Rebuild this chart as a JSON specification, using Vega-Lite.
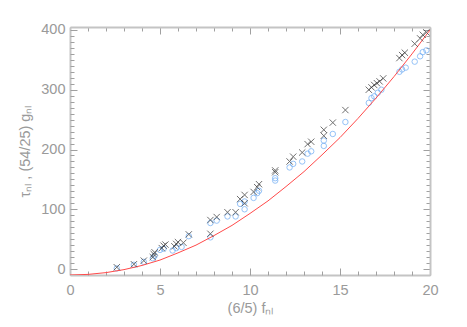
{
  "$schema": "https://vega.github.io/schema/vega-lite/v6.json",
  "width": 360,
  "height": 248,
  "autosize": "none",
  "padding": {"left": 70, "top": 27, "right": 37, "bottom": 52},
  "background": "white",
  "config": {
    "view": {"stroke": null},
    "axis": {
      "grid": false,
      "domainColor": "#c4c4c4",
      "domainWidth": 2,
      "tickColor": "#a0a0a0",
      "tickWidth": 1,
      "labelColor": "#9a9a9a",
      "labelFont": "Liberation Sans",
      "labelFontSize": 14.5,
      "titleColor": "#9a9a9a",
      "titleFont": "Liberation Sans",
      "titleFontSize": 14.5,
      "titleFontWeight": "normal",
      "labelOverlap": false,
      "labelBound": false,
      "labelFlush": false
    }
  },
  "datasets": {
    "curve": [
      {"x": 0, "y": -10}, {"x": 1, "y": -9}, {"x": 2, "y": -6}, {"x": 3, "y": -1},
      {"x": 4, "y": 6}, {"x": 5, "y": 15}, {"x": 6, "y": 27}, {"x": 7, "y": 40},
      {"x": 8, "y": 56}, {"x": 9, "y": 73}, {"x": 10, "y": 93}, {"x": 11, "y": 114},
      {"x": 12, "y": 138}, {"x": 13, "y": 163}, {"x": 14, "y": 191}, {"x": 15, "y": 220},
      {"x": 16, "y": 252}, {"x": 17, "y": 286}, {"x": 18, "y": 322}, {"x": 19, "y": 360},
      {"x": 20, "y": 400}
    ],
    "crosses": [
      {"x": 2.6, "y": 3}, {"x": 3.55, "y": 8}, {"x": 4.1, "y": 14}, {"x": 4.6, "y": 20},
      {"x": 4.65, "y": 25}, {"x": 4.7, "y": 28}, {"x": 5.1, "y": 35}, {"x": 5.2, "y": 39},
      {"x": 5.3, "y": 41}, {"x": 5.8, "y": 38}, {"x": 5.9, "y": 42}, {"x": 6.0, "y": 45},
      {"x": 6.3, "y": 44}, {"x": 6.6, "y": 58}, {"x": 7.8, "y": 59}, {"x": 7.8, "y": 82},
      {"x": 8.15, "y": 87}, {"x": 8.75, "y": 95}, {"x": 9.2, "y": 95}, {"x": 9.45, "y": 117},
      {"x": 9.7, "y": 124}, {"x": 9.7, "y": 110}, {"x": 10.2, "y": 129}, {"x": 10.4, "y": 137},
      {"x": 10.5, "y": 142}, {"x": 11.4, "y": 162}, {"x": 11.4, "y": 165}, {"x": 12.2, "y": 180},
      {"x": 12.4, "y": 188}, {"x": 12.9, "y": 195}, {"x": 13.2, "y": 209}, {"x": 13.4, "y": 213},
      {"x": 14.1, "y": 233}, {"x": 14.1, "y": 223}, {"x": 14.6, "y": 245}, {"x": 15.3, "y": 266},
      {"x": 16.6, "y": 300}, {"x": 16.75, "y": 304}, {"x": 16.9, "y": 308}, {"x": 17.05, "y": 311},
      {"x": 17.2, "y": 314}, {"x": 17.4, "y": 319}, {"x": 18.3, "y": 353}, {"x": 18.45, "y": 358},
      {"x": 18.6, "y": 362}, {"x": 19.15, "y": 377}, {"x": 19.45, "y": 386}, {"x": 19.6, "y": 392},
      {"x": 19.8, "y": 396}
    ],
    "circles": [
      {"x": 2.6, "y": 1}, {"x": 3.55, "y": 7}, {"x": 4.1, "y": 12}, {"x": 4.6, "y": 18},
      {"x": 4.7, "y": 22}, {"x": 5.0, "y": 32}, {"x": 5.2, "y": 34}, {"x": 5.7, "y": 31},
      {"x": 5.9, "y": 35}, {"x": 6.2, "y": 37}, {"x": 6.6, "y": 55}, {"x": 7.8, "y": 53},
      {"x": 7.8, "y": 77}, {"x": 8.15, "y": 81}, {"x": 8.75, "y": 88}, {"x": 9.2, "y": 88},
      {"x": 9.45, "y": 109}, {"x": 9.7, "y": 113}, {"x": 9.7, "y": 100}, {"x": 10.2, "y": 119},
      {"x": 10.4, "y": 127}, {"x": 10.5, "y": 131}, {"x": 11.4, "y": 148}, {"x": 11.4, "y": 152},
      {"x": 12.2, "y": 170}, {"x": 12.4, "y": 176}, {"x": 12.9, "y": 180}, {"x": 13.2, "y": 193},
      {"x": 13.4, "y": 197}, {"x": 14.1, "y": 215}, {"x": 14.1, "y": 206}, {"x": 14.6, "y": 226},
      {"x": 15.3, "y": 246}, {"x": 16.6, "y": 278}, {"x": 16.75, "y": 286}, {"x": 16.9, "y": 289},
      {"x": 17.1, "y": 295}, {"x": 17.3, "y": 300}, {"x": 18.3, "y": 330}, {"x": 18.45, "y": 334},
      {"x": 18.65, "y": 337}, {"x": 19.15, "y": 347}, {"x": 19.45, "y": 356}, {"x": 19.6, "y": 363},
      {"x": 19.8, "y": 366}
    ]
  },
  "layer": [
    {
      "data": {"name": "circles"},
      "mark": {"type": "point", "shape": "circle", "filled": false, "size": 30, "stroke": "#6aaaf5", "strokeWidth": 1, "clip": true},
      "encoding": {
        "x": {
          "field": "x", "type": "quantitative",
          "scale": {"domain": [0, 20], "nice": false, "zero": false},
          "title": "(6/5) fₙₗ",
          "axis": {"orient": "bottom", "values": [0, 5, 10, 15, 20], "ticks": false, "labelPadding": 8, "titlePadding": 5}
        },
        "y": {
          "field": "y", "type": "quantitative",
          "scale": {"domain": [-10, 405], "nice": false, "zero": false},
          "title": "τₙₗ , (54/25) gₙₗ",
          "axis": {"orient": "left", "values": [0, 100, 200, 300, 400], "ticks": false, "labelPadding": 5, "titlePadding": 8}
        }
      }
    },
    {
      "data": {"name": "curve"},
      "mark": {"type": "line", "color": "#ff4a4a", "strokeWidth": 1, "clip": true},
      "encoding": {
        "x": {
          "field": "x", "type": "quantitative",
          "axis": {
            "orient": "top", "offset": -248, "ticks": true, "domain": false, "labels": false, "title": null,
            "values": [0,1,2,3,4,5,6,7,8,9,10,11,12,13,14,15,16,17,18,19,20],
            "tickSize": {"condition": {"test": "datum.value % 5 === 0", "value": 7}, "value": 4}
          }
        },
        "y": {
          "field": "y", "type": "quantitative",
          "axis": {
            "orient": "right", "offset": -360, "ticks": true, "domain": false, "labels": false, "title": null,
            "values": [0,10,20,30,40,50,60,70,80,90,100,110,120,130,140,150,160,170,180,190,200,210,220,230,240,250,260,270,280,290,300,310,320,330,340,350,360,370,380,390,400],
            "tickSize": {"condition": {"test": "datum.value % 100 === 0", "value": 7}, "value": 4}
          }
        }
      }
    },
    {
      "data": {"name": "crosses"},
      "mark": {"type": "point", "shape": "M-1,-1L1,1M-1,1L1,-1", "filled": false, "size": 40, "stroke": "#333333", "strokeWidth": 1, "clip": true},
      "encoding": {
        "x": {
          "field": "x", "type": "quantitative",
          "axis": {
            "orient": "bottom", "offset": -248, "ticks": true, "domain": true, "labels": false, "title": null,
            "values": [0,1,2,3,4,5,6,7,8,9,10,11,12,13,14,15,16,17,18,19,20],
            "tickSize": {"condition": {"test": "datum.value % 5 === 0", "value": 7}, "value": 4}
          }
        },
        "y": {
          "field": "y", "type": "quantitative",
          "axis": {
            "orient": "left", "offset": -360, "ticks": true, "domain": true, "labels": false, "title": null,
            "values": [0,10,20,30,40,50,60,70,80,90,100,110,120,130,140,150,160,170,180,190,200,210,220,230,240,250,260,270,280,290,300,310,320,330,340,350,360,370,380,390,400],
            "tickSize": {"condition": {"test": "datum.value % 100 === 0", "value": 7}, "value": 4}
          }
        }
      }
    }
  ],
  "resolve": {"axis": {"x": "independent", "y": "independent"}}
}
